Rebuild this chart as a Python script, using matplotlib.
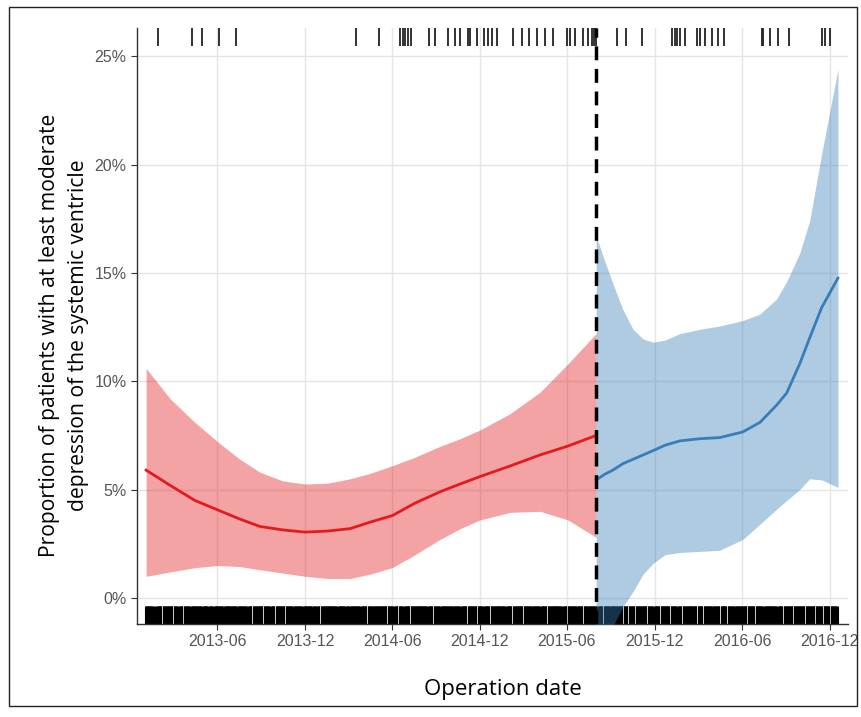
import matplotlib
matplotlib.use('Agg')
import matplotlib.pyplot as plt
import matplotlib.dates as mdates
from matplotlib.patches import Rectangle
from matplotlib.ticker import FuncFormatter
import numpy as np

# all x values are days since 2013-01-01
start = np.datetime64('2013-01-01')

red_days = [2, 52, 104, 152, 198, 240, 288, 334, 382, 428, 470, 516, 564, 616, 658, 699, 762, 825, 883, 942]
red_fit = [5.9, 5.2, 4.5, 4.06, 3.64, 3.3, 3.14, 3.04, 3.09, 3.2, 3.5, 3.8, 4.38, 4.9, 5.26, 5.6, 6.09, 6.6, 7.01, 7.5]
red_hi = [10.6, 9.2, 8.1, 7.2, 6.4, 5.8, 5.4, 5.26, 5.3, 5.5, 5.75, 6.1, 6.5, 7.0, 7.35, 7.75, 8.5, 9.5, 10.8, 12.2]
red_lo = [1.0, 1.2, 1.4, 1.5, 1.45, 1.3, 1.15, 1.0, 0.9, 0.9, 1.1, 1.4, 2.0, 2.7, 3.2, 3.6, 3.95, 4.0, 3.6, 2.8]

blue_days = [942, 959, 977, 998, 1019, 1040, 1061, 1086, 1117, 1159, 1200, 1248, 1284, 1319, 1340, 1367, 1388, 1413, 1447]
blue_fit = [5.44, 5.7, 5.9, 6.2, 6.4, 6.6, 6.8, 7.05, 7.25, 7.35, 7.4, 7.66, 8.1, 8.9, 9.46, 10.8, 12.0, 13.4, 14.76]
blue_hi = [16.7, 15.6, 14.5, 13.3, 12.4, 11.95, 11.8, 11.9, 12.2, 12.4, 12.55, 12.8, 13.1, 13.8, 14.6, 15.9, 17.4, 20.5, 24.4]
blue_lo = [-2.8, -2.0, -1.3, -0.4, 0.3, 1.1, 1.6, 2.0, 2.1, 2.15, 2.2, 2.7, 3.4, 4.1, 4.5, 5.0, 5.5, 5.45, 5.1]

change_day = 942

# events (top rug)
event_days = [27, 98, 119, 154, 190, 440, 489, 532, 539, 543, 549, 555, 593, 605, 633, 647, 658,
              674, 679, 693, 708, 716, 724, 735, 768, 787, 802, 818, 835, 852, 881, 887, 898, 914,
              925, 933, 937, 942, 985, 1004, 1038, 1100, 1107, 1111, 1117, 1127, 1152, 1159, 1169,
              1184, 1196, 1209, 1288, 1290, 1305, 1322, 1345, 1413, 1420, 1430]

# operations (bottom rug): nearly every day, except these gaps
op_first, op_last = 0, 1447
gap_days = [17, 21, 35, 58, 69, 79, 94, 119, 132, 142, 163, 192, 213, 223,
            246, 261, 271, 292, 309, 328, 349, 359, 365, 401, 418, 428, 449, 463, 476,
            505, 518, 528, 539, 553, 589, 601, 616, 643, 658, 672, 693, 706, 720,
            752, 766, 789, 808, 825, 839, 871, 881, 902, 914, 925, 944, 956, 971,
            998, 1008, 1023, 1048, 1061, 1075, 1096, 1111, 1121, 1152, 1165, 1184, 1200, 1215, 1232,
            1257, 1273, 1291, 1320, 1332, 1353, 1378, 1399, 1415, 1430, 1445]

def d(days):
    return start + np.array(days).astype('timedelta64[D]')

gap_set = set()
for g in gap_days:
    gap_set.update([g, g + 1])
op_days = [k for k in range(op_first, op_last + 1) if k not in gap_set]

fig = plt.figure(figsize=(8.62, 7.17), dpi=100)
ax = fig.add_axes([137/862, 1 - 624/717, (848 - 137)/862, (624 - 28)/717])

red = '#E41A1C'
blue = '#377EB8'

ax.vlines(d(op_days), 0, 0.03, transform=ax.get_xaxis_transform(), color='black', lw=0.8, zorder=2)
ax.vlines(d(event_days), 0.97, 1, transform=ax.get_xaxis_transform(), color='#222222', lw=1.3, zorder=2)

ax.fill_between(d(red_days), red_lo, red_hi, color=red, alpha=0.4, lw=0, zorder=3)
ax.fill_between(d(blue_days), blue_lo, blue_hi, color=blue, alpha=0.4, lw=0, zorder=3)
ax.plot(d(red_days), red_fit, color=red, lw=2.0, zorder=4, solid_joinstyle='round')
ax.plot(d(blue_days), blue_fit, color=blue, lw=2.0, zorder=4, solid_joinstyle='round')
ax.axvline(d([change_day])[0], color='black', lw=2.5, linestyle=(0, (4, 2.5)), zorder=5)

ax.set_xlim(d([-17])[0], d([1468])[0])
ax.set_ylim(-1.2, 26.3)
ax.set_yticks([0, 5, 10, 15, 20, 25])
ax.yaxis.set_major_formatter(FuncFormatter(lambda v, p: '%d%%' % v))
ax.set_xticks(d([151, 334, 516, 699, 881, 1064, 1247, 1430]))
ax.xaxis.set_major_formatter(mdates.DateFormatter('%Y-%m'))

ax.grid(True, color='#e5e5e5', lw=1.0, zorder=0)
ax.set_axisbelow(True)
for s in ['top', 'right']:
    ax.spines[s].set_visible(False)
for s in ['left', 'bottom']:
    ax.spines[s].set_color('#333333')
    ax.spines[s].set_linewidth(1.0)
ax.tick_params(axis='both', colors='#333333', length=4, width=0.8, labelsize=11.5, labelcolor='#555555')
for lab in ax.get_xticklabels() + ax.get_yticklabels():
    lab.set_family(['Liberation Sans', 'DejaVu Sans'])

fig.text(64/862, 1 - 335/717, 'Proportion of patients with at least moderate\ndepression of the systemic ventricle',
         rotation=90, ha='center', va='center', fontsize=15.2, family=['Open Sans', 'DejaVu Sans'],
         linespacing=1.45)
fig.text(503/862, 1 - 690/717, 'Operation date', ha='center', va='center', fontsize=16,
         family=['Open Sans', 'DejaVu Sans'])

fig.patches.append(Rectangle((9/862, 1 - 706/717), 848/862, 699/717, transform=fig.transFigure,
                             fill=False, edgecolor='#222222', lw=1.0))

fig.savefig('out.png', dpi=100)
